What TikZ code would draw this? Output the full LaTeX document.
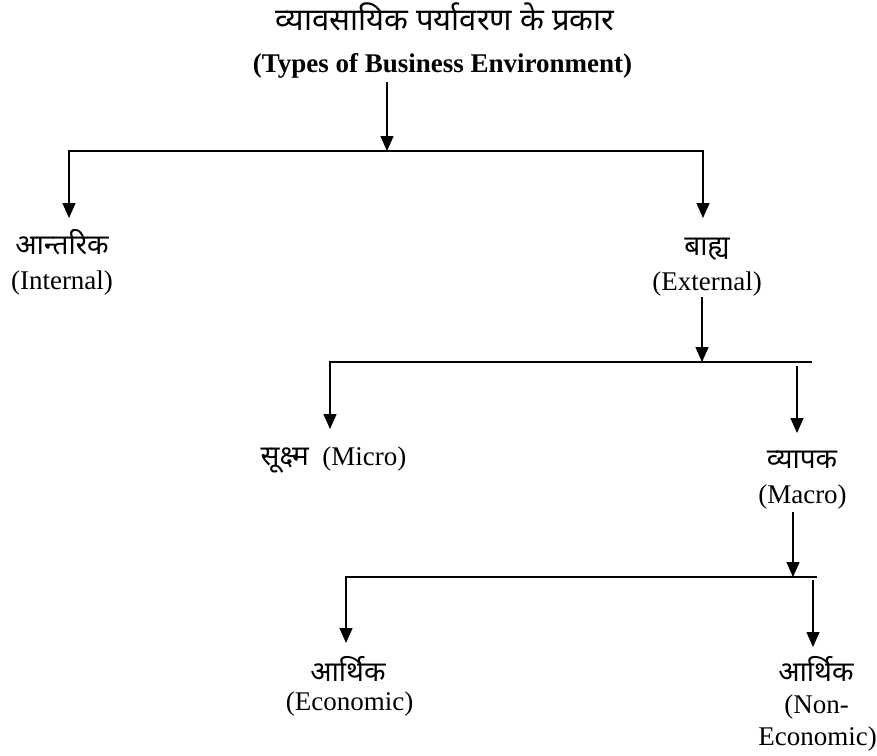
\documentclass[tikz,border=0pt]{standalone}
\usepackage{fontspec}
\setmainfont{Liberation Serif}
\newfontfamily\hindi[Script=Devanagari]{Noto Sans}
\usetikzlibrary{arrows.meta}
\begin{document}
\begin{tikzpicture}[x=1pt,y=-1pt,
  en/.style={font=\fontsize{27}{32}\selectfont, inner sep=0pt, anchor=base},
  hi/.style={font=\hindi\fontsize{28}{32}\selectfont, inner sep=0pt, anchor=base},
  conn/.style={line width=1.5pt, line join=miter},
  tip/.tip={Triangle[length=15pt,width=13pt]},
  arr/.style={conn, -tip}]
\useasboundingbox (0,0) rectangle (877,755);
% title
\node[hi, font=\hindi\fontsize{31}{36}\selectfont] (tH) at (445,30) {व्यावसायिक पर्यावरण के प्रकार};
\node[en, font=\bfseries\fontsize{27}{32}\selectfont] (tE) at (442.5,72) {(Types of Business Environment)};
% level 1
\node[hi] (intH) at (62,254) {आन्तरिक};
\node[en] (intE) at (62,289) {(Internal)};
\node[hi] (extH) at (707,255) {बाह्य};
\node[en] (extE) at (707,290) {(External)};
% level 2
\node[en] (mic) at (333.5,465) {{\hindi\fontsize{28}{32}\selectfont सूक्ष्म}\ \ (Micro)};
\node[hi] (macH) at (802,468) {व्यापक};
\node[en] (macE) at (802.5,503) {(Macro)};
% level 3
\node[hi] (ecoH) at (348,681) {आर्थिक};
\node[en] (ecoE) at (349.5,710) {(Economic)};
\node[hi] (necH) at (816,681) {आर्थिक};
\node[en] (necE1) at (816.5,713) {(Non-};
\node[en] (necE2) at (817.5,745) {Economic)};
% junctions
\coordinate (t0) at (387,82);
\coordinate (b1m) at (387,151);
\coordinate (b1L) at (69,151);
\coordinate (b1R) at (703,151);
\coordinate (intTip) at (69,218);
\coordinate (extTip) at (703,218);
\coordinate (e0) at (702,297);
\coordinate (b2m) at (702,362);
\coordinate (b2L) at (330,362);
\coordinate (b2R) at (812,362);
\coordinate (micTip) at (330,429);
\coordinate (mac0) at (797,366);
\coordinate (macTip) at (797,433);
\coordinate (m0) at (793,512);
\coordinate (b3m) at (793,577);
\coordinate (b3L) at (346,577);
\coordinate (b3R) at (817,577);
\coordinate (ecoTip) at (346,643);
\coordinate (nec0) at (813,580);
\coordinate (necTip) at (813,647);
% connectors
\draw[arr] (t0) -- (b1m);
\draw[conn, tip-tip] (intTip) -- (b1L) -- (b1R) -- (extTip);
\draw[arr] (e0) -- (b2m);
\draw[arr] (b2R) -- (b2L) -- (micTip);
\draw[arr] (mac0) -- (macTip);
\draw[arr] (m0) -- (b3m);
\draw[arr] (b3R) -- (b3L) -- (ecoTip);
\draw[arr] (nec0) -- (necTip);
\end{tikzpicture}
\end{document}
